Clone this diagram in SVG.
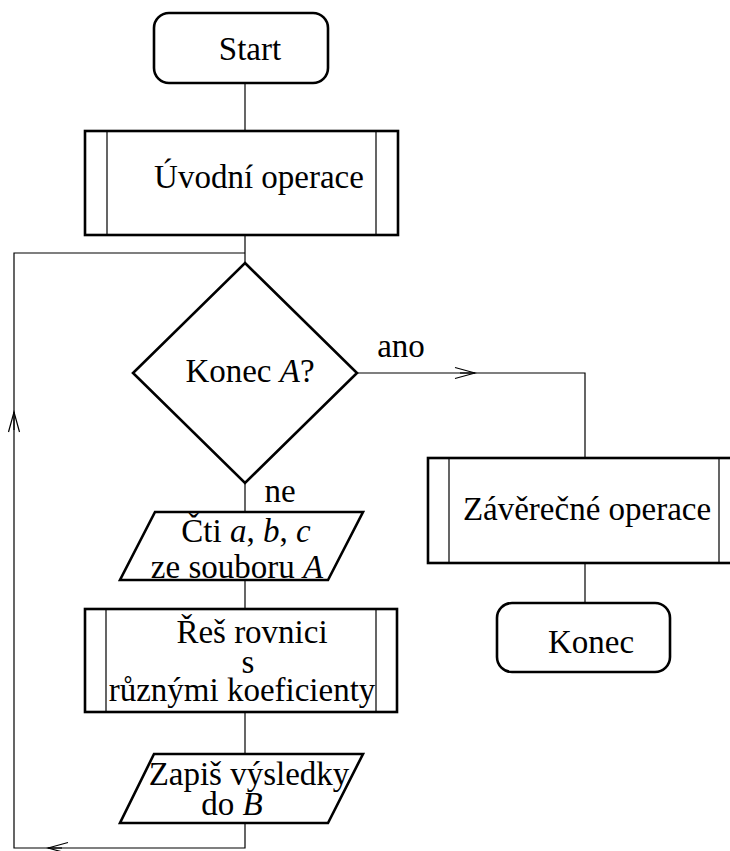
<svg xmlns="http://www.w3.org/2000/svg" width="730" height="851" viewBox="0 0 730 851" font-family="Liberation Serif, serif">
  <style>
    .shape { fill: #fff; stroke: #000; stroke-width: 2.6; }
    .inner { fill: none; stroke: #000; stroke-width: 1.2; }
    .conn { fill: none; stroke: #000; stroke-width: 1.2; }
    text { font-size: 33px; fill: #000; text-anchor: middle; }
    .it { font-style: italic; }
  </style>
  <defs>
    <!-- open chevron arrowhead, tip at the path end -->
    <marker id="arr" markerUnits="userSpaceOnUse" markerWidth="24" markerHeight="14" viewBox="-22 -7 24 14" refX="0" refY="0" orient="auto">
      <path d="M-20,-5.5 L0,0 L-20,5.5" fill="none" stroke="#000" stroke-width="1.2"/>
    </marker>
  </defs>

  <rect width="730" height="851" fill="#fff"/>

  <!-- connectors -->
  <g id="connectors">
    <path class="conn" d="M245,83 V131"/>
    <path class="conn" d="M245,235 V263"/>
    <path class="conn" d="M357,373 H585 V458"/>
    <path class="conn" d="M585,563 V603"/>
    <path class="conn" d="M245,483 V512"/>
    <path class="conn" d="M245,580 V609"/>
    <path class="conn" d="M245,712 V754"/>
    <path class="conn" d="M245,823 V848 H14 V253 H245"/>
    <!-- direction marks -->
    <path class="conn" d="M460,373 H475" marker-end="url(#arr)"/>
    <path class="conn" d="M14,430 V412" marker-end="url(#arr)"/>
    <path class="conn" d="M62,848 H48" marker-end="url(#arr)"/>
    <text x="401" y="357">ano</text>
    <text x="280" y="502">ne</text>
  </g>

  <g id="start">
    <rect class="shape" x="154" y="13" width="174" height="70" rx="15"/>
    <text x="250" y="60">Start</text>
  </g>

  <g id="uvodni">
    <rect class="shape" x="85" y="131" width="313" height="104"/>
    <path class="inner" d="M107,131 V235 M376,131 V235"/>
    <text x="259" y="188">Úvodní operace</text>
  </g>

  <g id="konec-a">
    <polygon class="shape" points="245,263 357,373 245,483 133,373"/>
    <text x="250" y="382">Konec <tspan class="it">A</tspan>?</text>
  </g>

  <g id="cti">
    <polygon class="shape" points="155,512 363,512 328,580 120,580"/>
    <text x="246" y="542">Čti <tspan class="it">a</tspan>, <tspan class="it">b</tspan>, <tspan class="it">c</tspan></text>
    <text x="237" y="578">ze souboru <tspan class="it">A</tspan></text>
  </g>

  <g id="res">
    <rect class="shape" x="85" y="609" width="312" height="103"/>
    <path class="inner" d="M106,609 V712 M376,609 V712"/>
    <text x="252" y="643">Řeš rovnici</text>
    <text x="248" y="673">s</text>
    <text x="242" y="701">různými koeficienty</text>
  </g>

  <g id="zapis">
    <polygon class="shape" points="154,754 363,754 328,823 120,823"/>
    <text x="249" y="785">Zapiš výsledky</text>
    <text x="232" y="815">do <tspan class="it">B</tspan></text>
  </g>

  <g id="zaverecne">
    <rect class="shape" x="428" y="458" width="314" height="105"/>
    <path class="inner" d="M449,458 V563 M719,458 V563"/>
    <text x="587" y="520">Závěrečné operace</text>
  </g>

  <g id="konec">
    <rect class="shape" x="497" y="603" width="173" height="69" rx="15"/>
    <text x="591" y="653">Konec</text>
  </g>
</svg>
